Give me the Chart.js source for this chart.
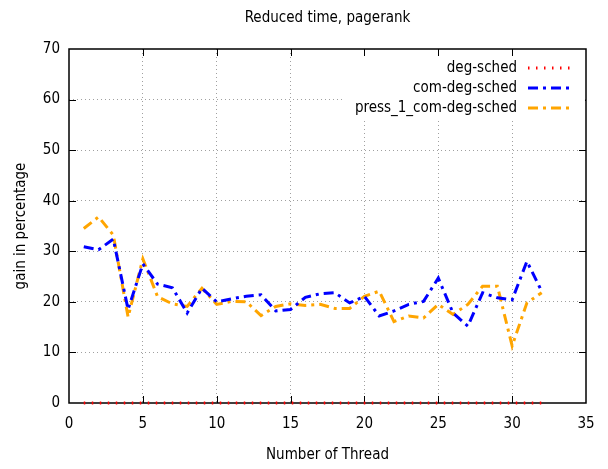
<!DOCTYPE html>
<html>
<head>
<meta charset="utf-8">
<script src="https://cdn.jsdelivr.net/npm/chart.js@4"></script>
<style>
  html, body { margin: 0; padding: 0; background: #fff; }
  #wrap { width: 608px; height: 469px; }
</style>
</head>
<body>
<div id="wrap"><canvas id="chart" width="608" height="469"></canvas></div>
<script>
var threads = [1, 2, 3, 4, 5, 6, 7, 8, 9, 10, 11, 12, 13, 14, 15, 16,
               17, 18, 19, 20, 21, 22, 23, 24, 25, 26, 27, 28, 29, 30, 31, 32];
var degSched = [0, 0, 0, 0, 0, 0, 0, 0, 0, 0, 0, 0, 0, 0, 0, 0,
                0, 0, 0, 0, 0, 0, 0, 0, 0, 0, 0, 0, 0, 0, 0, 0];
var comDegSched = [30.9, 30.3, 32.4, 18.5, 27.5, 23.5, 22.8, 17.8, 22.7, 20.0, 20.6, 21.1, 21.4, 18.2, 18.5, 20.9,
                   21.6, 21.8, 19.8, 21.1, 17.2, 18.2, 19.5, 20.1, 24.7, 17.8, 15.2, 21.8, 20.8, 20.4, 28.0, 22.1];
var pressComDegSched = [34.5, 36.8, 33.2, 17.0, 28.5, 21.0, 19.6, 19.1, 22.7, 19.5, 20.1, 20.0, 17.3, 19.1, 19.6, 19.3,
                        19.5, 18.7, 18.7, 21.1, 22.1, 16.1, 17.2, 16.8, 19.5, 17.5, 19.5, 23.1, 23.1, 11.3, 19.8, 21.8];
var xTicks = [0, 5, 10, 15, 20, 25, 30, 35];
var yTicks = [0, 10, 20, 30, 40, 50, 60, 70];

var FONT = "'DejaVu Sans Condensed', 'Liberation Sans Narrow', 'DejaVu Sans', sans-serif";

function pts(ys) {
    return threads.map(function (t, i) { return { x: t, y: ys[i] }; });
}

var datasets = [
    {
        label: 'deg-sched',
        data: pts(degSched),
        borderColor: '#ff0000',
        borderWidth: 3,
        borderDash: [1.5, 6.5],
        clip: false
    },
    {
        label: 'com-deg-sched',
        data: pts(comDegSched),
        borderColor: '#0000ff',
        borderWidth: 3,
        borderDash: [10, 5, 3, 5]
    },
    {
        label: 'press_1_com-deg-sched',
        data: pts(pressComDegSched),
        borderColor: '#ffa500',
        borderWidth: 3,
        borderDash: [10, 5, 3, 5]
    }
];

// gnuplot style frame with inward tick marks
var framePlugin = {
    id: 'frame',
    beforeDatasetsDraw: function (chart) {
        var ctx = chart.ctx, a = chart.chartArea;
        var xs = chart.scales.x, ys = chart.scales.y;
        ctx.save();
        ctx.strokeStyle = '#000';
        ctx.lineWidth = 1;
        ctx.beginPath();
        xTicks.slice(1, -1).forEach(function (v) {
            var px = Math.round(xs.getPixelForValue(v)) + 0.5;
            ctx.moveTo(px, a.bottom); ctx.lineTo(px, a.bottom - 7);
            ctx.moveTo(px, a.top); ctx.lineTo(px, a.top + 7);
        });
        yTicks.slice(1, -1).forEach(function (v) {
            var py = Math.round(ys.getPixelForValue(v)) + 0.5;
            ctx.moveTo(a.left, py); ctx.lineTo(a.left + 7, py);
            ctx.moveTo(a.right, py); ctx.lineTo(a.right - 7, py);
        });
        ctx.stroke();
        ctx.lineWidth = 1.5;
        ctx.strokeRect(a.left, a.top, a.right - a.left, a.bottom - a.top);
        ctx.restore();
    }
};

// key in the top right, text right aligned, sample after it
var keyPlugin = {
    id: 'key',
    afterDatasetsDraw: function (chart) {
        var ctx = chart.ctx, a = chart.chartArea;
        ctx.save();
        ctx.fillStyle = '#fff';
        ctx.fillRect(342, a.top + 7, a.right - 343, 64);
        ctx.font = '15px ' + FONT;
        ctx.textAlign = 'right';
        ctx.textBaseline = 'middle';
        chart.data.datasets.forEach(function (ds, i) {
            var y = 68 + i * 20;
            ctx.fillStyle = '#000';
            ctx.fillText(ds.label, 517, y);
            ctx.strokeStyle = ds.borderColor;
            ctx.lineWidth = ds.borderWidth;
            ctx.setLineDash(ds.borderDash);
            ctx.beginPath();
            ctx.moveTo(528, y);
            ctx.lineTo(570, y);
            ctx.stroke();
        });
        ctx.restore();
    }
};

function gridColor(c) {
    var last = c.scale.ticks.length - 1;
    return (c.index === 0 || c.index === last) ? 'rgba(0,0,0,0)' : '#a0a0a0';
}

var ctx = document.getElementById('chart').getContext('2d');
var chart = new Chart(ctx, {
    type: 'line',
    data: { datasets: datasets },
    plugins: [framePlugin, keyPlugin],
    options: {
        responsive: false,
        animation: false,
        events: [],
        layout: { padding: { left: 0, right: 22, top: 0, bottom: 0 } },
        elements: {
            point: { radius: 0 },
            line: { tension: 0, borderCapStyle: 'butt' }
        },
        plugins: {
            legend: { display: false },
            tooltip: { enabled: false },
            title: {
                display: true,
                fullSize: false,
                text: 'Reduced time, pagerank',
                color: '#000',
                font: { family: FONT, size: 15, weight: 'normal' },
                padding: { top: 9, bottom: 22 }
            }
        },
        scales: {
            x: {
                type: 'linear',
                min: 0,
                max: 35,
                afterFit: function (s) { s.height = 66; },
                afterBuildTicks: function (s) {
                    s.ticks = xTicks.map(function (v) { return { value: v }; });
                },
                ticks: {
                    color: '#000',
                    padding: 12,
                    maxRotation: 0,
                    font: { family: FONT, size: 15 }
                },
                grid: {
                    drawTicks: false,
                    color: gridColor,
                    lineWidth: 1
                },
                border: { display: false, dash: [1, 3] },
                title: {
                    display: true,
                    text: 'Number of Thread',
                    color: '#000',
                    font: { family: FONT, size: 15 },
                    padding: { top: 0, bottom: 5 }
                }
            },
            y: {
                min: 0,
                max: 70,
                afterFit: function (s) { s.width = 69; },
                afterBuildTicks: function (s) {
                    s.ticks = yTicks.map(function (v) { return { value: v }; });
                },
                ticks: {
                    color: '#000',
                    padding: 9,
                    font: { family: FONT, size: 15 }
                },
                grid: {
                    drawTicks: false,
                    color: gridColor,
                    lineWidth: 1
                },
                border: { display: false, dash: [1, 3] },
                title: {
                    display: true,
                    text: 'gain in percentage',
                    color: '#000',
                    font: { family: FONT, size: 15 },
                    padding: { top: 12, bottom: 0 }
                }
            }
        }
    }
});
</script>
</body>
</html>
